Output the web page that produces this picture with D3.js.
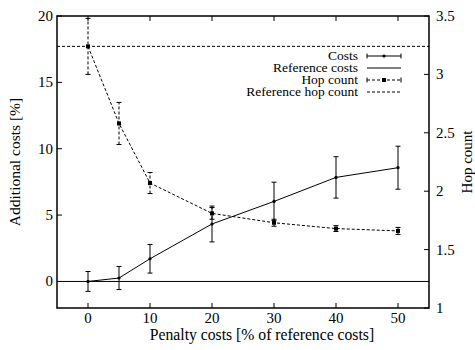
<!DOCTYPE html>
<html>
<head>
<meta charset="utf-8">
<script src="https://cdn.jsdelivr.net/npm/d3@7"></script>
<style>
  body { margin: 0; background: #fff; }
  svg { display: block; }
</style>
</head>
<body>
<div id="vis"></div>
<script>
// values
const penalty = [0, 5, 10, 20, 30, 40, 50]
const costs = [0, 0.26, 1.71, 4.33, 6.03, 7.84, 8.57]
const costsErr = [0.75, 0.87, 1.08, 1.35, 1.45, 1.56, 1.62]
const hops = [3.24, 2.58, 2.07, 1.81, 1.73, 1.68, 1.66]
const hopsErr = [0.24, 0.18, 0.09, 0.05, 0.03, 0.025, 0.03]
const refCost = 0
const refHop = 3.24
const xTicks = [0, 10, 20, 30, 40, 50]
const yTicks = [0, 5, 10, 15, 20]
const y2Ticks = [1, 1.5, 2, 2.5, 3, 3.5]
const legendLabels = ['Costs', 'Reference costs', 'Hop count', 'Reference hop count']

const W = 475, H = 350
const pLeft = 57, pRight = 429, pTop = 16, pBottom = 308
const FONT = 'Liberation Serif'

const x = d3.scaleLinear().domain([-5, 55]).range([pLeft, pRight])
const y = d3.scaleLinear().domain([-2, 20]).range([pBottom, pTop])
const y2 = d3.scaleLinear().domain([1, 3.5]).range([pBottom, pTop])

const svg = d3.select('#vis').append('svg').attr('width', W).attr('height', H)

function label(sel, size) {
  return sel.attr('font-family', FONT).attr('font-size', size).attr('fill', '#000')
}

// ticks, gnuplot style (inward, mirrored on top)
const tickLen = 5
const tk = svg.append('g').attr('stroke', '#000').attr('stroke-width', 1)
xTicks.forEach(function (t) {
  tk.append('line').attr('x1', x(t)).attr('x2', x(t)).attr('y1', pBottom).attr('y2', pBottom - tickLen)
  tk.append('line').attr('x1', x(t)).attr('x2', x(t)).attr('y1', pTop).attr('y2', pTop + tickLen)
})
yTicks.forEach(function (t) {
  tk.append('line').attr('x1', pLeft).attr('x2', pLeft + tickLen).attr('y1', y(t)).attr('y2', y(t))
})
y2Ticks.forEach(function (t) {
  tk.append('line').attr('x1', pRight).attr('x2', pRight - tickLen).attr('y1', y2(t)).attr('y2', y2(t))
})

// tick labels
label(svg.append('g').selectAll('text').data(xTicks).enter().append('text'), 15)
  .attr('x', function (d) { return x(d) }).attr('y', 323)
  .attr('text-anchor', 'middle').text(function (d) { return d })
label(svg.append('g').selectAll('text').data(yTicks).enter().append('text'), 15)
  .attr('x', pLeft - 4).attr('y', function (d) { return y(d) + 5 })
  .attr('text-anchor', 'end').text(function (d) { return d })
label(svg.append('g').selectAll('text').data(y2Ticks).enter().append('text'), 15)
  .attr('x', pRight + 7).attr('y', function (d) { return y2(d) + 5 })
  .attr('text-anchor', 'start').text(function (d) { return d })

// axis titles
label(svg.append('text'), 15.7).attr('x', 262).attr('y', 340).attr('text-anchor', 'middle')
  .text('Penalty costs [% of reference costs]')
label(svg.append('text'), 15.5).attr('transform', 'translate(20,' + (pTop + pBottom) / 2 + ')rotate(-90)')
  .attr('text-anchor', 'middle').text('Additional costs [%]')
label(svg.append('text'), 15).attr('transform', 'translate(472,' + (pTop + pBottom) / 2 + ')rotate(-90)')
  .attr('text-anchor', 'middle').text('Hop count')

// reference lines
svg.append('line').attr('x1', pLeft).attr('x2', pRight).attr('y1', y(refCost)).attr('y2', y(refCost))
  .attr('stroke', '#000').attr('stroke-width', 1)
svg.append('line').attr('x1', pLeft).attr('x2', pRight).attr('y1', y2(refHop)).attr('y2', y2(refHop))
  .attr('stroke', '#000').attr('stroke-width', 1).attr('stroke-dasharray', '3,2')

const capW = 2.5

// hop count series
const hopG = svg.append('g').attr('stroke', '#000').attr('stroke-width', 1).attr('stroke-dasharray', '3,2')
hopG.append('path')
  .datum(penalty)
  .attr('fill', 'none')
  .attr('d', d3.line().x(function (d) { return x(d) }).y(function (d, i) { return y2(hops[i]) }))
penalty.forEach(function (p, i) {
  let px = x(p), y0 = y2(hops[i] - hopsErr[i]), y1 = y2(hops[i] + hopsErr[i])
  hopG.append('line').attr('x1', px).attr('x2', px).attr('y1', y0).attr('y2', y1)
  hopG.append('line').attr('x1', px - capW).attr('x2', px + capW).attr('y1', y0).attr('y2', y0).attr('stroke-dasharray', 'none')
  hopG.append('line').attr('x1', px - capW).attr('x2', px + capW).attr('y1', y1).attr('y2', y1).attr('stroke-dasharray', 'none')
})
svg.append('g').selectAll('rect').data(penalty).enter().append('rect')
  .attr('x', function (d) { return x(d) - 2 })
  .attr('y', function (d, i) { return y2(hops[i]) - 2 })
  .attr('width', 4).attr('height', 4).attr('fill', '#000')

// costs series
const costG = svg.append('g').attr('stroke', '#000').attr('stroke-width', 1)
costG.append('path')
  .datum(penalty)
  .attr('fill', 'none')
  .attr('d', d3.line().x(function (d) { return x(d) }).y(function (d, i) { return y(costs[i]) }))
penalty.forEach(function (p, i) {
  let px = x(p), y0 = y(costs[i] - costsErr[i]), y1 = y(costs[i] + costsErr[i])
  costG.append('line').attr('x1', px).attr('x2', px).attr('y1', y0).attr('y2', y1)
  costG.append('line').attr('x1', px - capW).attr('x2', px + capW).attr('y1', y0).attr('y2', y0)
  costG.append('line').attr('x1', px - capW).attr('x2', px + capW).attr('y1', y1).attr('y2', y1)
})
svg.append('g').selectAll('circle').data(penalty).enter().append('circle')
  .attr('cx', function (d) { return x(d) })
  .attr('cy', function (d, i) { return y(costs[i]) })
  .attr('r', 1.6).attr('fill', '#000')

// legend
const lgY = [56, 68, 80, 92]
const sx0 = 367, sx1 = 401, sxm = (sx0 + sx1) / 2
const lg = svg.append('g')
label(lg.selectAll('text').data(legendLabels).enter().append('text'), 13.5)
  .attr('x', 358).attr('y', function (d, i) { return lgY[i] + 4 })
  .attr('text-anchor', 'end').text(function (d) { return d })
const ls = lg.append('g').attr('stroke', '#000').attr('stroke-width', 1)
// costs sample
ls.append('line').attr('x1', sx0).attr('x2', sx1).attr('y1', lgY[0]).attr('y2', lgY[0])
ls.append('line').attr('x1', sx0).attr('x2', sx0).attr('y1', lgY[0] - 2.5).attr('y2', lgY[0] + 2.5)
ls.append('line').attr('x1', sx1).attr('x2', sx1).attr('y1', lgY[0] - 2.5).attr('y2', lgY[0] + 2.5)
lg.append('circle').attr('cx', sxm).attr('cy', lgY[0]).attr('r', 1.6).attr('fill', '#000')
// reference costs sample
ls.append('line').attr('x1', sx0).attr('x2', sx1).attr('y1', lgY[1]).attr('y2', lgY[1])
// hop count sample
ls.append('line').attr('x1', sx0).attr('x2', sx1).attr('y1', lgY[2]).attr('y2', lgY[2]).attr('stroke-dasharray', '3,2')
ls.append('line').attr('x1', sx0).attr('x2', sx0).attr('y1', lgY[2] - 2.5).attr('y2', lgY[2] + 2.5)
ls.append('line').attr('x1', sx1).attr('x2', sx1).attr('y1', lgY[2] - 2.5).attr('y2', lgY[2] + 2.5)
lg.append('rect').attr('x', sxm - 2).attr('y', lgY[2] - 2).attr('width', 4).attr('height', 4).attr('fill', '#000')
// reference hop count sample
ls.append('line').attr('x1', sx0).attr('x2', sx1).attr('y1', lgY[3]).attr('y2', lgY[3]).attr('stroke-dasharray', '3,2')

// border
svg.append('rect').attr('x', pLeft).attr('y', pTop).attr('width', pRight - pLeft).attr('height', pBottom - pTop)
  .attr('fill', 'none').attr('stroke', '#000').attr('stroke-width', 1.5)
</script>
</body>
</html>
